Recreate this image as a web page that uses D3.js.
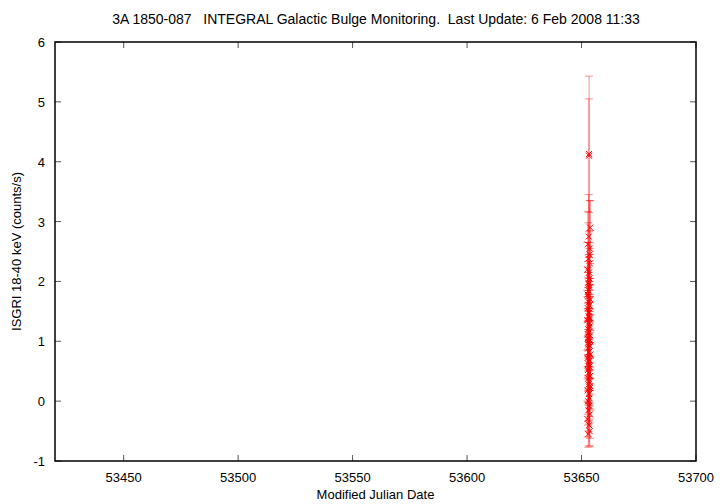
<!DOCTYPE html>
<html>
<head>
<meta charset="utf-8">
<script src="https://cdn.jsdelivr.net/npm/d3@7"></script>
<style>
	body { margin: 0; background: #fff; }
	text { font-family: "Liberation Sans", Arial, sans-serif; font-size: 13px; fill: #000; white-space: pre; }
</style>
</head>
<body>
<div id="chart"></div>
<script>
// light curve points: date, rate, error
var mjd = [
	53653.25, 53653.30, 53652.75, 53653.55, 53653.00, 53653.70, 53652.55, 53653.28,
	53653.45, 53652.90, 53653.65, 53653.10, 53652.65, 53653.80, 53653.20, 53653.50,
	53652.80, 53653.40, 53653.05, 53653.60, 53652.50, 53653.35, 53653.58, 53652.95,
	53653.15, 53653.75, 53652.70, 53653.48, 53653.08, 53653.62, 53652.85, 53653.22,
	53653.85, 53652.60, 53653.38, 53653.02, 53653.52, 53652.78, 53653.18, 53653.72,
	53652.92, 53653.42, 53653.12, 53653.66, 53652.68, 53653.26, 53653.46, 53652.82,
	53653.36, 53653.04, 53653.64, 53652.58, 53653.32, 53653.56, 53652.96, 53653.14,
	53653.76, 53652.72, 53653.44, 53653.06, 53653.60, 53652.88, 53653.24, 53653.82,
	53653.16
];
var rate = [
	4.10, 4.13, 2.62, 2.45, 2.38, 2.30, 2.20, 2.15,
	2.05, 1.98, 1.90, 1.85, 1.78, 1.70, 1.65, 1.60,
	1.55, 1.48, 1.42, 1.38, 1.35, 1.30, 1.25, 1.20,
	1.15, 1.10, 1.05, 1.02, 0.98, 0.92, 0.88, 0.82,
	0.78, 0.72, 0.68, 0.62, 0.58, 0.52, 0.48, 0.42,
	0.38, 0.32, 0.28, 0.22, 0.18, 0.12, 0.05, 0.00,
	-0.08, -0.15, -0.22, -0.30, -0.40, -0.50, -0.55, 2.75,
	2.90, 1.12, 1.40, 0.95, 2.55, 1.75, 0.65, 0.25,
	1.95
];
var rate_err = [
	0.95, 1.30, 0.55, 0.40, 0.60, 0.35, 0.45, 0.30,
	0.50, 0.35, 0.40, 0.30, 0.45, 0.35, 0.30, 0.40,
	0.35, 0.45, 0.30, 0.40, 0.50, 0.35, 0.30, 0.45,
	0.40, 0.35, 0.50, 0.30, 0.40, 0.35, 0.45, 0.30,
	0.40, 0.35, 0.30, 0.45, 0.40, 0.35, 0.50, 0.30,
	0.40, 0.45, 0.35, 0.30, 0.40, 0.45, 0.35, 0.40,
	0.30, 0.35, 0.40, 0.30, 0.35, 0.25, 0.22, 0.70,
	0.45, 0.40, 0.35, 0.45, 0.80, 0.40, 0.35, 0.40,
	0.45
];

var x_ticks = [53450, 53500, 53550, 53600, 53650, 53700];
var y_ticks = [-1, 0, 1, 2, 3, 4, 5, 6];

var title = "3A 1850-087   INTEGRAL Galactic Bulge Monitoring.  Last Update: 6 Feb 2008 11:33";
var x_label = "Modified Julian Date";
var y_label = "ISGRI 18-40 keV (counts/s)";

var width = 720, height = 504;
var margin = {left: 55, right: 24, top: 42, bottom: 43};

var svg = d3.select("#chart").append("svg")
	.attr("width", width)
	.attr("height", height);

var x = d3.scaleLinear().domain([53420, 53700]).range([margin.left, width - margin.right]);
var y = d3.scaleLinear().domain([-1, 6]).range([height - margin.bottom, margin.top]);

var data = mjd.map(function(d, i){ return {t: d, r: rate[i], e: rate_err[i]}; });

var x0 = x.range()[0], x1 = x.range()[1];
var y0 = y.range()[0], y1 = y.range()[1];
var tick_len = 6;

// ticks (inward, mirrored)
var ticks = svg.append("g").attr("stroke", "#555").attr("stroke-width", 1);
x_ticks.forEach(function(t){
	ticks.append("line").attr("x1", x(t)).attr("x2", x(t)).attr("y1", y0).attr("y2", y0 - tick_len);
	ticks.append("line").attr("x1", x(t)).attr("x2", x(t)).attr("y1", y1).attr("y2", y1 + tick_len);
});
y_ticks.forEach(function(t){
	ticks.append("line").attr("x1", x0).attr("x2", x0 + tick_len).attr("y1", y(t)).attr("y2", y(t));
	ticks.append("line").attr("x1", x1).attr("x2", x1 - tick_len).attr("y1", y(t)).attr("y2", y(t));
});

// error bars
var err = svg.append("g")
	.attr("stroke", "rgba(255,0,0,0.45)")
	.attr("stroke-width", 1);

err.selectAll(".bar")
	.data(data)
	.enter()
		.append("line")
			.attr("x1", function(d){ return x(d.t); })
			.attr("x2", function(d){ return x(d.t); })
			.attr("y1", function(d){ return y(d.r - d.e); })
			.attr("y2", function(d){ return y(d.r + d.e); });

[-1, 1].forEach(function(s){
	err.selectAll(".cap" + s)
		.data(data)
		.enter()
			.append("line")
				.attr("x1", function(d){ return x(d.t) - 4; })
				.attr("x2", function(d){ return x(d.t) + 4; })
				.attr("y1", function(d){ return y(d.r + s * d.e); })
				.attr("y2", function(d){ return y(d.r + s * d.e); });
});

// points as crosses
var pts = svg.append("g")
	.attr("stroke", "#f00")
	.attr("stroke-width", 1);

pts.selectAll(".pt")
	.data(data)
	.enter()
		.append("path")
			.attr("d", function(d){
				var px = x(d.t), py = y(d.r), s = 3;
				return "M" + (px - s) + "," + (py - s) + "L" + (px + s) + "," + (py + s) +
					"M" + (px - s) + "," + (py + s) + "L" + (px + s) + "," + (py - s);
			});

// frame
svg.append("rect")
	.attr("x", x0).attr("y", y1)
	.attr("width", x1 - x0).attr("height", y0 - y1)
	.attr("fill", "none")
	.attr("stroke", "#000")
	.attr("stroke-width", 1.5);

// tick labels
svg.append("g").selectAll("text")
	.data(x_ticks)
	.enter()
		.append("text")
			.attr("x", function(d){ return x(d); })
			.attr("y", y0 + 21)
			.attr("text-anchor", "middle")
			.text(function(d){ return d; });

svg.append("g").selectAll("text")
	.data(y_ticks)
	.enter()
		.append("text")
			.attr("x", x0 - 10)
			.attr("y", function(d){ return y(d) + 5; })
			.attr("text-anchor", "end")
			.text(function(d){ return d; });

svg.append("text")
	.attr("x", 376).attr("y", 24)
	.attr("text-anchor", "middle")
	.style("font-size", "14px")
	.text(title);

svg.append("text")
	.attr("x", (x0 + x1) / 2).attr("y", 499)
	.attr("text-anchor", "middle")
	.text(x_label);

svg.append("text")
	.attr("transform", "translate(21," + ((y0 + y1) / 2) + ") rotate(-90)")
	.attr("text-anchor", "middle")
	.text(y_label);
</script>
</body>
</html>
